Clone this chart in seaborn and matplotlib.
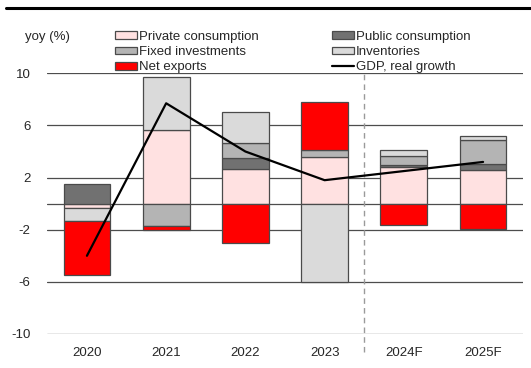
import numpy as np
import matplotlib
matplotlib.use("Agg")
import matplotlib.pyplot as plt
from matplotlib.patches import Patch
from matplotlib.lines import Line2D
import seaborn as sns
import pandas as pd

# Contributions to real GDP growth (percentage points, yoy)
years = ["2020", "2021", "2022", "2023", "2024F", "2025F"]
private_consumption = [-0.30, 5.64, 2.64, 3.58, 2.82, 2.56]
public_consumption = [1.48, 0.00, 0.90, 0.00, 0.18, 0.46]
fixed_investments = [0.00, -1.72, 1.15, 0.54, 0.66, 1.85]
inventories = [-1.03, 4.10, 2.36, -5.98, 0.46, 0.33]
net_exports = [-4.15, -0.30, -3.05, 3.70, -1.64, -1.98]
gdp_growth = [-4.0, 7.7, 4.0, 1.8, 2.5, 3.2]
y_ticks = [-10, -6, -2, 2, 6, 10]

sns.set_theme(style="white")
plt.rcParams["font.family"] = ["Liberation Sans", "DejaVu Sans"]

fig = plt.figure(figsize=(5.31, 3.68), dpi=100)
ax = fig.add_axes([47.3 / 531, 1 - 334 / 368, (522.7 - 47.3) / 531, (334 - 73.3) / 368])

components = [
    ("Private consumption", private_consumption, "#FFE1E1"),
    ("Public consumption", public_consumption, "#717171"),
    ("Fixed investments", fixed_investments, "#B4B4B4"),
    ("Inventories", inventories, "#DADADA"),
    ("Net exports", net_exports, "#FF0000"),
]

x = np.arange(len(years))
pos_base = np.zeros(len(years))
neg_base = np.zeros(len(years))
for name, vals, color in components:
    vals = np.asarray(vals, dtype=float)
    bottoms = np.where(vals >= 0, pos_base, neg_base)
    mask = vals != 0
    ax.bar(x[mask], vals[mask], bottom=bottoms[mask], width=0.59, color=color,
           edgecolor="#4a4a4a", linewidth=0.9, zorder=3)
    pos_base = pos_base + np.where(vals > 0, vals, 0)
    neg_base = neg_base + np.where(vals < 0, vals, 0)

df_gdp = pd.DataFrame({"pos": x, "gdp": gdp_growth})
sns.lineplot(data=df_gdp, x="pos", y="gdp", color="black", linewidth=1.6, ax=ax, zorder=5)

# horizontal grid plus the zero line
for yv in y_ticks + [0]:
    ax.axhline(yv, color="#4d4d4d", linewidth=0.9, zorder=1)

# forecast separator
ax.axvline(3.5, ymin=-0.07, ymax=1.0, color="#9a9a9a", linewidth=1.0,
           linestyle=(0, (4, 3)), clip_on=False, zorder=2)

ax.set_xlim(-0.5, len(years) - 0.5)
ax.set_ylim(-10, 10)
ax.set_yticks(y_ticks)
ax.set_yticklabels([str(v) for v in y_ticks])
ax.set_xticks(x)
ax.set_xticklabels(years)
ax.set_xlabel("")
ax.set_ylabel("")
ax.tick_params(axis="both", length=0, labelsize=9.5, labelcolor="#262626")
ax.tick_params(axis="y", pad=12)
ax.tick_params(axis="x", pad=9)
for s in ax.spines.values():
    s.set_visible(False)

fig.text(25 / 531, 1 - 37 / 368, "yoy (%)", fontsize=9.5, color="#262626", va="center", ha="left")

h = {
    "Private consumption": Patch(facecolor="#FFE1E1", edgecolor="#4a4a4a", linewidth=0.9),
    "Public consumption": Patch(facecolor="#717171", edgecolor="#4a4a4a", linewidth=0.9),
    "Fixed investments": Patch(facecolor="#B4B4B4", edgecolor="#4a4a4a", linewidth=0.9),
    "Inventories": Patch(facecolor="#DADADA", edgecolor="#4a4a4a", linewidth=0.9),
    "Net exports": Patch(facecolor="#FF0000", edgecolor="#4a4a4a", linewidth=0.9),
    "GDP, real growth": Line2D([], [], color="black", linewidth=1.6),
}
order = ["Private consumption", "Fixed investments", "Net exports",
         "Public consumption", "Inventories", "GDP, real growth"]
fig.legend([h[k] for k in order], order, ncol=2, loc="upper left",
           bbox_to_anchor=(115 / 531, 1 - 31 / 368), frameon=False,
           fontsize=9.5, borderpad=0, borderaxespad=0, handlelength=1.65,
           handleheight=0.55, handletextpad=0.15, labelspacing=0.24,
           columnspacing=5.6, labelcolor="#262626")

# header rule
fig.add_artist(Line2D([6 / 531, 1.0], [1 - 8 / 368, 1 - 8 / 368], color="black",
                      linewidth=2.2, transform=fig.transFigure))

fig.savefig("out.png", dpi=100)
